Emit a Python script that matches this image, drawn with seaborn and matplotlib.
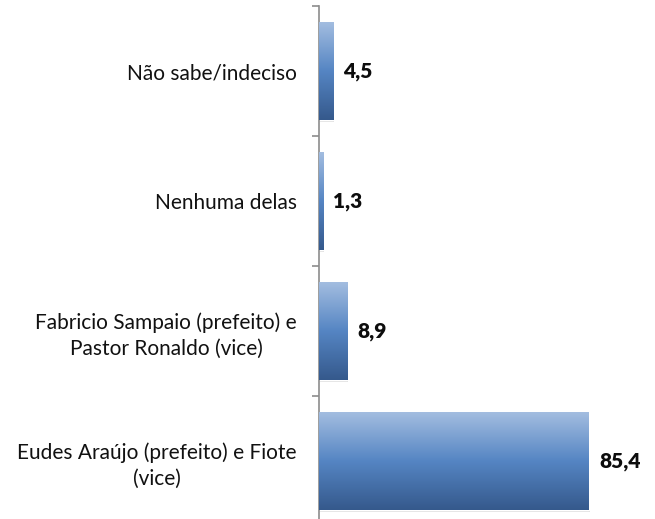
import numpy as np
import pandas as pd
import matplotlib
matplotlib.use("Agg")
import matplotlib.pyplot as plt
import seaborn as sns
from matplotlib.colors import LinearSegmentedColormap

categorias = ["Não sabe/indeciso",
              "Nenhuma delas",
              "Fabricio Sampaio (prefeito) e\nPastor Ronaldo (vice)",
              "Eudes Araújo (prefeito) e Fiote\n(vice)"]
valores = [4.5, 1.3, 8.9, 85.4]
rotulos = ["4,5", "1,3", "8,9", "85,4"]

df = pd.DataFrame({"cat": categorias, "val": valores})

sns.set_style("white")
plt.rcParams["font.family"] = ["Lato", "DejaVu Sans"]

fig = plt.figure(figsize=(6.55, 5.19), dpi=100)
ax = fig.add_axes([0.487, -0.0135, 0.4825, 1.0019])

sns.barplot(data=df, y="cat", x="val", orient="h", width=0.75,
            color="#4f81bd", ax=ax, zorder=2)

# gradient fill on each bar
grad = LinearSegmentedColormap.from_list("g", ["#a3bde0", "#5585c3", "#35598c"])
g = np.linspace(0, 1, 256).reshape(-1, 1)
for p in ax.patches:
    x0, y0 = p.get_x(), p.get_y()
    w, h = p.get_width(), p.get_height()
    # soft shadow
    ax.add_patch(plt.Rectangle((x0 + 0.25, y0 + 0.02), w, h, color="#000000",
                               alpha=0.12, lw=0, zorder=1))
    im = ax.imshow(g, cmap=grad, aspect="auto", extent=[x0, x0 + w, y0 + h, y0],
                   zorder=3, interpolation="bicubic")
    im.set_clip_path(p)
    p.set_facecolor("none")

for i, (v, t) in enumerate(zip(valores, rotulos)):
    ax.annotate(t, xy=(v, i), xytext=(10, 0), textcoords="offset pixels",
                ha="left", va="center", fontsize=15, fontweight="heavy",
                color="#0d0d0d")

ax.set_xlim(0, 100)
ax.set_ylim(3.5, -0.5)
ax.set_xlabel("")
ax.set_ylabel("")
ax.set_xticks([])
for s in ["top", "right", "bottom"]:
    ax.spines[s].set_visible(False)
ax.spines["left"].set_color("#8c8c8c")
ax.spines["left"].set_linewidth(1.2)

ax.set_yticks(range(4))
ax.set_yticklabels(categorias, multialignment="center", fontsize=15,
                   color="#111111", linespacing=1.35)
ax.tick_params(axis="y", which="major", length=0, pad=16)
ax.set_yticks([-0.5, 0.5, 1.5, 2.5, 3.5], minor=True)
ax.tick_params(axis="y", which="minor", length=5, width=1.2, color="#8c8c8c", left=True)

fig.savefig("out.png", dpi=100)
